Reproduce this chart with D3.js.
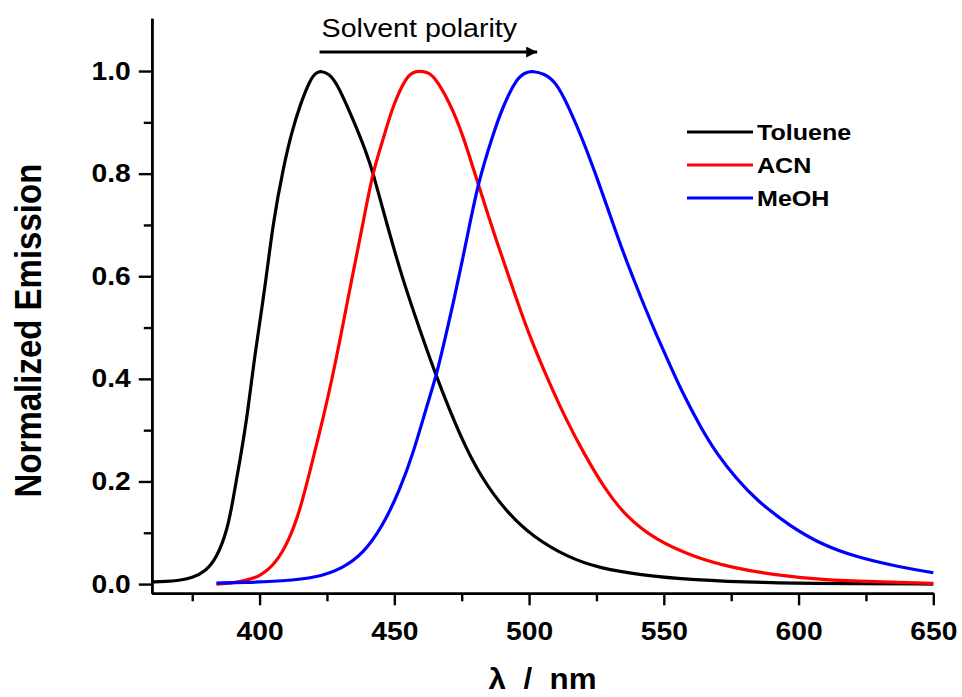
<!DOCTYPE html>
<html>
<head>
<meta charset="utf-8">
<script src="https://cdn.jsdelivr.net/npm/d3@7"></script>
<style>
  html, body { margin: 0; padding: 0; background: #fff; }
  svg { display: block; }
  text { font-family: "Liberation Sans", Arial, Helvetica, sans-serif; fill: #000; }
</style>
</head>
<body>
<svg id="chart" width="962" height="697"></svg>
<script>
// Emission spectra (normalized) in three solvents
const tolueneNm = [360, 365, 370, 375, 380, 384, 388, 390, 393, 395.5, 398, 402, 405, 409, 412, 415, 419, 421, 423, 425.5, 428.5, 434.5, 439.5, 442, 447, 453, 459.5, 465.5, 474.5, 482, 492, 501.5, 514, 526, 541, 560, 590, 620, 650];
const tolueneEm = [0.004, 0.005, 0.007, 0.012, 0.025, 0.05, 0.105, 0.16, 0.25, 0.33, 0.44, 0.576, 0.706, 0.817, 0.882, 0.934, 0.986, 0.997, 1.0, 0.995, 0.979, 0.908, 0.843, 0.804, 0.706, 0.595, 0.495, 0.405, 0.287, 0.209, 0.138, 0.092, 0.053, 0.031, 0.018, 0.008, 0.002, 0.001, 0.0];

const acnNm = [384, 390, 394, 400, 406, 411, 415, 418.5, 422.5, 426.5, 430, 433.5, 438.5, 442, 446, 449.5, 454.5, 457, 459.5, 462, 464.5, 470.5, 475.5, 481, 488, 494, 500, 507.7, 514, 520, 527.5, 536, 547, 561, 576, 591, 609, 628, 650];
const acnEm = [0.0, 0.002, 0.006, 0.014, 0.04, 0.086, 0.144, 0.216, 0.30, 0.39, 0.48, 0.576, 0.706, 0.804, 0.869, 0.934, 0.989, 0.998, 1.0, 0.998, 0.992, 0.94, 0.875, 0.781, 0.667, 0.576, 0.485, 0.39, 0.318, 0.258, 0.19, 0.131, 0.086, 0.053, 0.031, 0.018, 0.008, 0.0045, 0.0015];

const meohNm = [384, 395, 408.5, 421, 431, 438.5, 445.5, 452, 457, 462, 465.5, 468, 472, 477, 481, 486.5, 490.5, 495.5, 498.5, 501.5, 505.5, 510, 515, 520, 525, 530, 535, 539, 542.5, 547.5, 552.5, 557, 563.5, 569.5, 577, 584.5, 597, 609, 621.5, 634, 650];
const meohEm = [0.002, 0.003, 0.006, 0.012, 0.031, 0.06, 0.111, 0.183, 0.255, 0.346, 0.405, 0.46, 0.55, 0.675, 0.781, 0.875, 0.934, 0.986, 0.997, 1.0, 0.995, 0.979, 0.927, 0.865, 0.795, 0.72, 0.645, 0.592, 0.545, 0.483, 0.424, 0.372, 0.307, 0.255, 0.205, 0.163, 0.112, 0.076, 0.053, 0.037, 0.022];

const seriesNames = ["Toluene", "ACN", "MeOH"];
const seriesColors = ["#000000", "#ff0000", "#0000ff"];

const xMajorTicks = [400, 450, 500, 550, 600, 650];
const xMinorTicks = [375, 425, 475, 525, 575, 625];
const yMajorTicks = [0.0, 0.2, 0.4, 0.6, 0.8, 1.0];
const yMinorTicks = [0.1, 0.3, 0.5, 0.7, 0.9];

// polarity arrow runs from the toluene maximum to the methanol maximum
const arrowNm = [423, 503];
const arrowLevel = 1.037;
const arrowLabel = "Solvent polarity";
const xTitle = "λ  /  nm";
const yTitle = "Normalized Emission";

// the lettering of this figure is a little wider than plain Arial
const widen = 1.13;

const svg = d3.select("#chart");

const x = d3.scaleLinear().domain([360, 650]).range([151.8, 933.3]);
const y = d3.scaleLinear().domain([-0.018, 1.103]).range([593.3, 18.2]);

const series = [
  { name: seriesNames[0], color: seriesColors[0], pts: d3.zip(tolueneNm, tolueneEm) },
  { name: seriesNames[1], color: seriesColors[1], pts: d3.zip(acnNm, acnEm) },
  { name: seriesNames[2], color: seriesColors[2], pts: d3.zip(meohNm, meohEm) }
];

const line = d3.line()
  .x(d => x(d[0]))
  .y(d => y(d[1]))
  .curve(d3.curveBasis);

svg.append("g")
  .selectAll("path")
  .data(series)
  .join("path")
  .attr("d", d => line(d.pts))
  .attr("fill", "none")
  .attr("stroke", d => d.color)
  .attr("stroke-width", 3.2)
  .attr("stroke-linejoin", "round");

// axes
const xAxisY = y.range()[0];
const axisX = x.range()[0];

function styleAxis(g) {
  g.select(".domain").attr("stroke", "#000").attr("stroke-width", 2.6);
  g.selectAll(".tick line").attr("stroke", "#000").attr("stroke-width", 2.4);
  g.selectAll(".tick text")
    .attr("font-family", "'Liberation Sans', Arial, sans-serif")
    .attr("font-weight", "bold")
    .attr("font-size", 25)
    .attr("fill", "#000")
    .attr("x", function () { return (+this.getAttribute("x") || 0) / widen; })
    .attr("transform", `scale(${widen},1)`);
}

svg.append("g")
  .attr("transform", `translate(0,${xAxisY})`)
  .call(d3.axisBottom(x).tickValues(xMinorTicks).tickSize(8).tickSizeOuter(0).tickFormat(""))
  .call(styleAxis);

svg.append("g")
  .attr("transform", `translate(0,${xAxisY})`)
  .call(d3.axisBottom(x).tickValues(xMajorTicks).tickSize(12).tickSizeOuter(0).tickPadding(17).tickFormat(d3.format("d")))
  .call(styleAxis);

svg.append("g")
  .attr("transform", `translate(${axisX},0)`)
  .call(d3.axisLeft(y).tickValues(yMinorTicks).tickSize(8).tickSizeOuter(0).tickFormat(""))
  .call(styleAxis);

svg.append("g")
  .attr("transform", `translate(${axisX},0)`)
  .call(d3.axisLeft(y).tickValues(yMajorTicks).tickSize(13).tickSizeOuter(0).tickPadding(8).tickFormat(d3.format(".1f")))
  .call(styleAxis);

// axis titles
svg.append("text")
  .attr("transform", `translate(41,${(y(0.0) + y(1.0)) / 2 + 3}) scale(${widen},1) rotate(-90)`)
  .attr("text-anchor", "middle")
  .attr("font-weight", "bold")
  .attr("font-size", 33)
  .text(yTitle);

svg.append("text")
  .attr("transform", `translate(${(x.range()[0] + x.range()[1]) / 2},689) scale(1.08,1)`)
  .attr("text-anchor", "middle")
  .attr("font-weight", "bold")
  .attr("font-size", 29)
  .style("white-space", "pre")
  .text(xTitle);

// polarity annotation
const defs = svg.append("defs");
defs.append("marker")
  .attr("id", "arrowHead")
  .attr("viewBox", "0 0 10 10")
  .attr("refX", 10)
  .attr("refY", 5)
  .attr("markerUnits", "userSpaceOnUse")
  .attr("markerWidth", 20)
  .attr("markerHeight", 11)
  .attr("orient", "auto")
  .append("path")
  .attr("d", "M0,0 L10,5 L0,10 Z")
  .attr("fill", "#000");

svg.append("line")
  .attr("x1", x(arrowNm[0]) - 2)
  .attr("x2", x(arrowNm[1]))
  .attr("y1", y(arrowLevel))
  .attr("y2", y(arrowLevel))
  .attr("stroke", "#000")
  .attr("stroke-width", 3)
  .attr("marker-end", "url(#arrowHead)");

svg.append("text")
  .attr("transform", `translate(${x(arrowNm[0])},37) scale(1.1,1)`)
  .attr("font-size", 26)
  .text(arrowLabel);

// legend
const legend = svg.append("g").attr("transform", "translate(687,132)");
const rows = legend.selectAll("g")
  .data(series)
  .join("g")
  .attr("transform", (d, i) => `translate(0,${i * 33})`);
rows.append("line")
  .attr("x1", 0).attr("x2", 66)
  .attr("y1", 0).attr("y2", 0)
  .attr("stroke", d => d.color)
  .attr("stroke-width", 3);
rows.append("text")
  .attr("transform", `translate(70,8) scale(1.14,1)`)
  .attr("font-size", 22)
  .attr("font-weight", "bold")
  .text(d => d.name);
</script>
</body>
</html>
